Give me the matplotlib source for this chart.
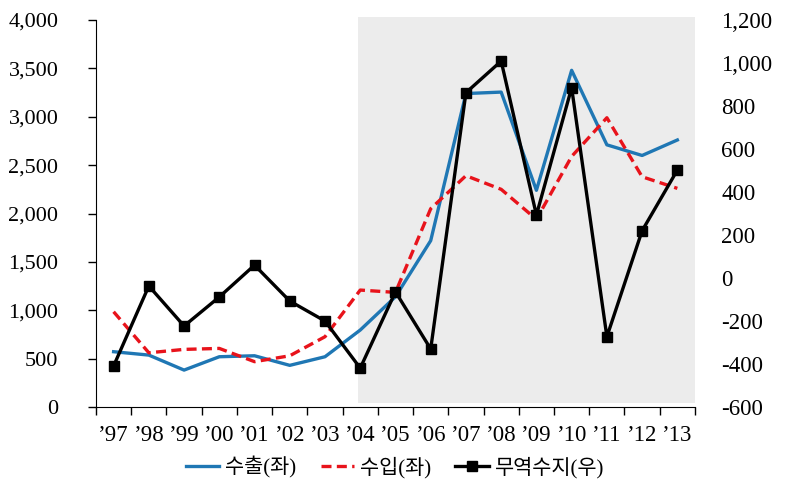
import numpy as np
import matplotlib.pyplot as plt
from matplotlib.patches import Rectangle

years = ["’97", "’98", "’99", "’00", "’01", "’02", "’03", "’04", "’05",
         "’06", "’07", "’08", "’09", "’10", "’11", "’12", "’13"]
exports = [572, 537, 382, 520, 530, 431, 520, 796, 1140,
           1720, 3240, 3255, 2240, 3480, 2710, 2600, 2760]
imports = [985, 561, 596, 606, 469, 530, 727, 1209, 1185,
           2050, 2391, 2250, 1940, 2590, 2990, 2380, 2260]
balance = [-409, -37, -223, -88, 60, -107, -200, -419, -64,
           -330, 862, 1009, 293, 885, -273, 220, 502]

plt.rcParams['font.family'] = ['Liberation Serif', 'Noto Sans CJK KR']

x = np.arange(len(years))

fig = plt.figure(figsize=(7.9, 4.94), dpi=100)
ax = fig.add_axes([0.1215, 0.176, 0.7582, 0.7835])
ax2 = ax.twinx()

# shaded period from '04 onward
ax.add_patch(Rectangle((6.93, 40), 16.5 - 6.93, 3990, facecolor='#ececec',
                       edgecolor='none', clip_on=False, zorder=0))

l1, = ax.plot(x, exports, color='#1f77b4', lw=2.4, label='수출(좌)', zorder=3)
l2, = ax.plot(x, imports, color='#e8131b', lw=2.4, ls=(0, (3, 1.6)), label='수입(좌)', zorder=3)
l3, = ax2.plot(x, balance, color='black', lw=2.4, marker='s', ms=6.5, label='무역수지(우)', zorder=4)

ax.set_xlim(-0.5, 16.5)
ax.set_ylim(0, 4000)
ax2.set_ylim(-600, 1200)
ax.set_yticks(range(0, 4001, 500))
ax.set_yticklabels([f'{v:,}' for v in range(0, 4001, 500)])
ax2.set_yticks(range(-600, 1201, 200))
ax2.set_yticklabels([f'{v:,}' for v in range(-600, 1201, 200)])

ax.set_xticks(x)
ax.set_xticklabels(years)
ax.set_xticks(np.arange(-0.5, 16.6, 1), minor=True)
ax.tick_params(axis='x', which='major', length=0, labelsize=16.5, pad=13)
ax.tick_params(axis='x', which='minor', length=6, width=1, direction='out')
ax.tick_params(axis='y', length=6, width=1, labelsize=16, pad=21)
ax2.tick_params(axis='y', length=0, labelsize=16.5, pad=19)

for a in (ax, ax2):
    a.spines['top'].set_visible(False)
    a.spines['right'].set_visible(False)
ax2.spines['left'].set_visible(False)
ax2.spines['bottom'].set_visible(False)
ax.patch.set_visible(False)

fig.legend(handles=[l1, l2, l3], loc='center', bbox_to_anchor=(0.5, 0.054),
           ncol=3, frameon=False, fontsize=15, handlelength=1.6, columnspacing=1.15,
           handletextpad=0.3)

fig.savefig('out.png', dpi=100)
